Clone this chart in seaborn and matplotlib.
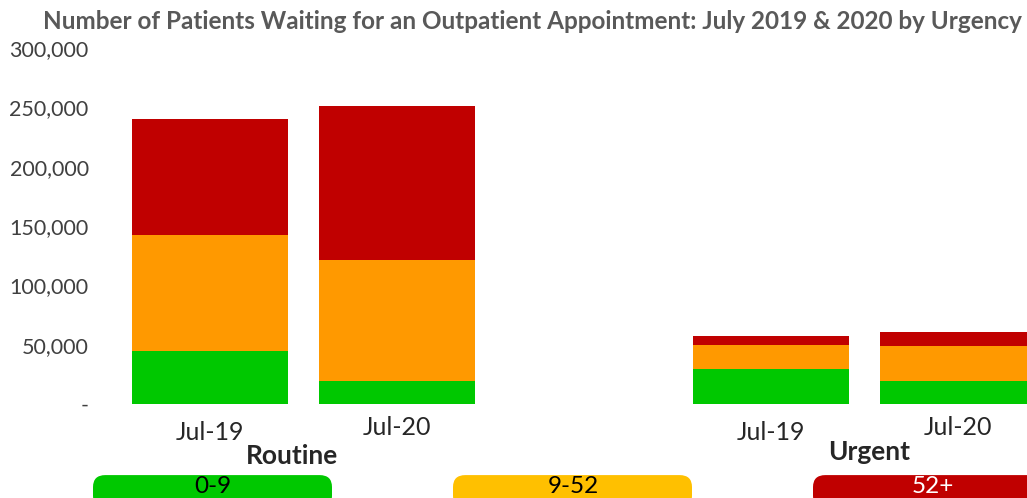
import pandas as pd
import seaborn as sns
import matplotlib.pyplot as plt
import matplotlib.transforms as mtransforms
from matplotlib.patches import FancyBboxPatch
from matplotlib.ticker import FuncFormatter

# data
slots = ['R-Jul-19', 'R-Jul-20', 'gap', 'U-Jul-19', 'U-Jul-20']
bars = ['R-Jul-19', 'R-Jul-20', 'U-Jul-19', 'U-Jul-20']
tick_labels = ['Jul-19', 'Jul-20', '', 'Jul-19', 'Jul-20']
wait_0_9 = [44600, 19400, 29500, 19400]
wait_9_52 = [97700, 101800, 20200, 29400]
wait_52 = [97600, 129600, 7500, 11800]
bands = ['0-9', '9-52', '52+']
groups = ['Routine', 'Urgent']

bar_cols = {'0-9': '#00C800', '9-52': '#FF9900', '52+': '#C00000'}
key_cols = {'0-9': '#00C800', '9-52': '#FFC000', '52+': '#C00000'}
key_txt = {'0-9': 'black', '9-52': 'black', '52+': 'white'}

df = pd.DataFrame({'slot': bars, '0-9': wait_0_9, '9-52': wait_9_52, '52+': wait_52})
df['lvl1'] = df['0-9']
df['lvl2'] = df['0-9'] + df['9-52']
df['lvl3'] = df['lvl2'] + df['52+']

sns.set_style('white')
plt.rcParams['font.family'] = ['Lato', 'DejaVu Sans']

fig = plt.figure(figsize=(10.27, 4.98), dpi=100)
ax = fig.add_axes([0.1134, 0.1888, 0.8866, 0.7148])

# stacked bars: draw totals first, then smaller cumulative sums on top
for col, band in [('lvl3', '52+'), ('lvl2', '9-52'), ('lvl1', '0-9')]:
    sns.barplot(data=df, x='slot', y=col, order=slots, color=bar_cols[band],
                width=0.834, saturation=1, ax=ax, linewidth=0)

ax.set_xlim(-0.5, 4.369)
ax.set_ylim(0, 300000)
ax.set_yticks(range(0, 300001, 50000))
ax.yaxis.set_major_formatter(FuncFormatter(lambda v, p: '-' if v == 0 else f'{int(v):,}'))
ax.set_xticks(range(len(slots)))
ax.set_xticklabels([])
ax.set_xlabel('')
ax.set_ylabel('')
ax.tick_params(axis='y', labelsize=15.5, labelcolor='#404040', length=0, pad=20)
ax.tick_params(axis='x', length=0)
for s in ax.spines.values():
    s.set_visible(False)

# category labels under bars (the Jul-19 ones sit a little lower, as in the original)
trans = mtransforms.blended_transform_factory(ax.transData, ax.transAxes)
for i, lab in enumerate(tick_labels):
    if not lab:
        continue
    yy = -0.0815 if lab == 'Jul-19' else -0.0674
    ax.text(i, yy, lab, transform=trans, ha='center', va='center', fontsize=18)

fig.text(0.518, 0.956, 'Number of Patients Waiting for an Outpatient Appointment: July 2019 & 2020 by Urgency',
         ha='center', va='center', fontsize=17.5, fontweight='bold', color='#595959')

# group labels
fig.text(292 / 1027, 1 - 456 / 498, groups[0], ha='center', va='center',
         fontsize=19, fontweight='bold')
fig.text(869 / 1027, 1 - 452 / 498, groups[1], ha='center', va='center',
         fontsize=19, fontweight='bold')

# colour key boxes along the bottom
key_x = [93, 453, 813]
for x0, band in zip(key_x, bands):
    box = FancyBboxPatch((x0 / 1027, -0.02), 239 / 1027, 0.066,
                         boxstyle='round,pad=0,rounding_size=0.012',
                         transform=fig.transFigure, facecolor=key_cols[band],
                         edgecolor='none', mutation_aspect=2)
    fig.patches.append(box)
    fig.text((x0 + 120) / 1027, 0.024, band, ha='center', va='center',
             fontsize=17.5, color=key_txt[band])

plt.savefig('out.png', dpi=100)
